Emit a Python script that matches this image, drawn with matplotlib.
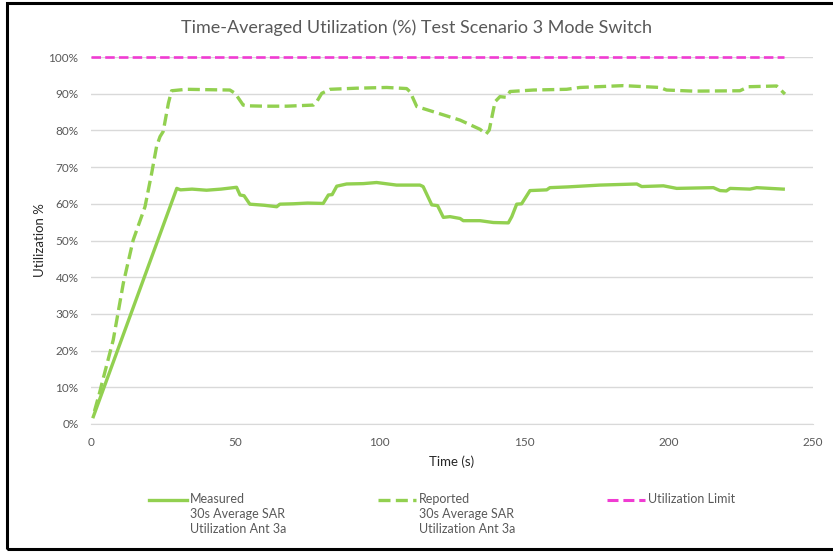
import matplotlib
matplotlib.use("Agg")
import matplotlib.pyplot as plt
from matplotlib.lines import Line2D
from matplotlib.patches import Rectangle
from matplotlib.ticker import MultipleLocator, PercentFormatter

plt.rcParams['font.family'] = ['Lato', 'DejaVu Sans']

# measured 30s average (solid)
meas_t = [0.8, 29.7, 31, 35, 40, 45, 50.4, 51.6, 53, 55, 60, 64.3, 65.4, 70, 75,
          80.4, 82.2, 83.5, 85.1, 88.5, 94.3, 98.9, 105.8, 113.9, 115, 118, 120,
          122, 124.3, 127.8, 128.9, 134.7, 139.3, 144.5, 145.7, 147.4, 149.1, 152,
          157.8, 158.9, 165, 176.2, 189, 190.7, 198.2, 202.8, 215.5, 217.8, 220,
          221.3, 228.2, 230.5, 239.7]
meas_v = [2.0, 64.2, 63.8, 64.0, 63.7, 64.0, 64.5, 62.4, 62.2, 59.9, 59.6, 59.2,
          59.9, 60.0, 60.2, 60.1, 62.4, 62.5, 64.8, 65.4, 65.5, 65.8, 65.1, 65.1,
          64.7, 59.7, 59.5, 56.3, 56.5, 56.0, 55.4, 55.4, 54.9, 54.8, 56.5, 59.9,
          60.0, 63.6, 63.8, 64.4, 64.6, 65.1, 65.4, 64.7, 64.9, 64.2, 64.4, 63.6,
          63.5, 64.2, 64.0, 64.4, 64.0]

# reported 30s average (dashed)
rep_t = [1.2, 3.0, 3.6, 7.7, 11.2, 14.6, 18.7, 21, 22.7, 23.9, 25, 26.8, 27.9,
         33, 40, 48.1, 49.9, 52.7, 53.9, 60, 67.8, 77, 78.3, 79.9, 82.8, 92,
         102.4, 109.3, 110.5, 112.8, 118.5, 127.8, 134.7, 136.8, 137.9, 139.9,
         141.6, 143.9, 145.1, 153.2, 164.7, 169.3, 184.3, 197, 199.3, 208.6,
         224.7, 227.6, 237.4, 240.3]
rep_v = [3.5, 8.6, 10.5, 22.9, 38.4, 50.1, 59.2, 68.3, 75.6, 78.3, 79.7, 87.4,
         90.8, 91.2, 91.1, 91.0, 90.1, 86.9, 86.7, 86.6, 86.6, 86.9, 88.0, 90.1,
         91.2, 91.5, 91.7, 91.4, 90.5, 86.5, 85.1, 82.8, 80.3, 79.0, 80.1, 87.8,
         89.2, 89.0, 90.6, 91.0, 91.2, 91.7, 92.2, 91.7, 91.0, 90.7, 90.8, 91.9,
         92.1, 89.9]

limit_t = [0, 240]
limit_v = [100, 100]

labels = ['Measured\n30s Average SAR\nUtilization Ant 3a',
          'Reported\n30s Average SAR\nUtilization Ant 3a',
          'Utilization Limit']

green = '#92D050'
magenta = '#F03CD2'
gray = '#595959'

fig = plt.figure(figsize=(8.33, 5.52), dpi=100)
ax = fig.add_axes([91/833, 1-424/552, 722/833, 367/552])

ax.plot(meas_t, meas_v, color=green, lw=2.4, solid_joinstyle='round', zorder=3)
ax.plot(rep_t, rep_v, color=green, lw=2.4, dashes=(3.6, 1.6), zorder=3)
ax.plot(limit_t, limit_v, color=magenta, lw=1.9, dashes=(3.6, 1.6), zorder=4, clip_on=False)

ax.set_xlim(0, 250)
ax.set_ylim(0, 100)
ax.xaxis.set_major_locator(MultipleLocator(50))
ax.yaxis.set_major_locator(MultipleLocator(10))
ax.yaxis.set_major_formatter(PercentFormatter(decimals=0))
ax.grid(axis='y', color='#D9D9D9', lw=1)
ax.set_axisbelow(True)
for s in ['top', 'right', 'left']:
    ax.spines[s].set_visible(False)
ax.spines['bottom'].set_color('#D9D9D9')
ax.tick_params(length=0, labelsize=8.5, labelcolor=gray)
ax.tick_params(axis='y', pad=9)
ax.tick_params(axis='x', pad=9)

ax.set_xlabel('Time (s)', fontsize=9.5, color='#262626', labelpad=6)
ax.set_ylabel('Utilization %', fontsize=9.5, color='#262626', labelpad=2)
fig.text(0.5, 1-28/552, 'Time-Averaged Utilization (%) Test Scenario 3 Mode Switch',
         ha='center', va='center', fontsize=13, color=gray)

# legend drawn by hand so the key lines sit on the first text line
styles = [dict(color=green, lw=2.4),
          dict(color=green, lw=2.4, dashes=(3.6, 1.6)),
          dict(color=magenta, lw=2.2, dashes=(3.6, 1.6))]
starts = [149, 378, 607]
ly = 1-500/552
for x0, lab, st in zip(starts, labels, styles):
    fig.add_artist(Line2D([x0/833, (x0+38)/833], [ly, ly], transform=fig.transFigure, **st))
    fig.text((x0+41)/833, ly+0.012, lab, ha='left', va='top', fontsize=9,
             color=gray, linespacing=1.3)

fig.add_artist(Rectangle((7/833, 3/552), 830/833, 546/552, transform=fig.transFigure,
                         fill=False, ec='black', lw=2.2))

fig.savefig('out.png', dpi=100)
